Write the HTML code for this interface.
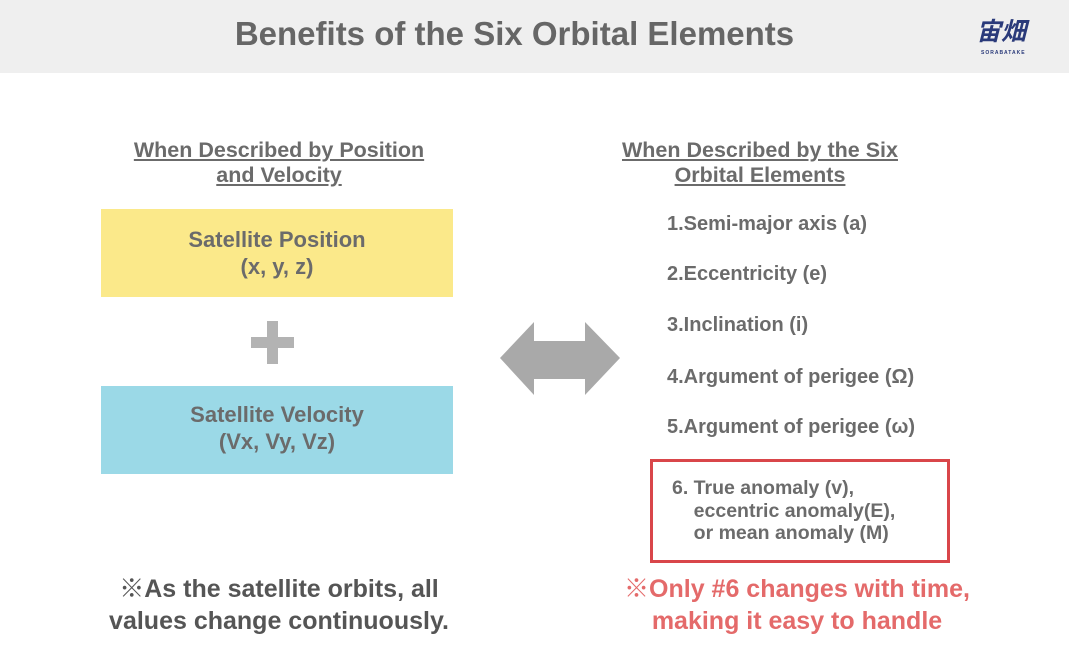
<!DOCTYPE html>
<html><head><meta charset="utf-8"><style>
body{margin:0;width:1069px;height:660px;background:#fff;position:relative;overflow:hidden;font-family:"Liberation Sans","Noto Sans CJK JP",sans-serif;font-weight:bold;color:#6b6b6b}
.a{position:absolute;white-space:nowrap}
.c{text-align:center}
</style></head><body>
<div class="a" style="left:0;top:0;width:1069px;height:73px;background:#efefef"></div>
<div class="a c" style="left:0;width:1029px;top:15px;font-size:33px;color:#666">Benefits of the Six Orbital Elements</div>
<div class="a" style="left:976px;top:16px;font-size:25px;color:#2a3a7a;font-style:italic;font-family:'Noto Sans CJK JP',sans-serif;line-height:28px">宙畑</div>
<div class="a" style="left:981px;top:50px;font-size:5px;color:#2a3a7a;letter-spacing:1px">SORABATAKE</div>

<div class="a c" style="left:79px;width:400px;top:138px;font-size:21.5px;line-height:25px;text-decoration:underline">When Described by Position<br>and Velocity</div>
<div class="a c" style="left:560px;width:400px;top:138px;font-size:21.5px;line-height:25px;text-decoration:underline">When Described by the Six<br>Orbital Elements</div>

<div class="a c" style="left:101px;top:209px;width:352px;height:88px;background:#fbe98a;font-size:22px;line-height:27px;box-sizing:border-box;padding-top:17px">Satellite Position<br>(x, y, z)</div>
<div class="a" style="left:251px;top:337px;width:43px;height:11px;background:#b3b3b3"></div>
<div class="a" style="left:267px;top:321px;width:11px;height:43px;background:#b3b3b3"></div>
<div class="a c" style="left:101px;top:386px;width:352px;height:88px;background:#9bd9e7;font-size:22px;line-height:27px;box-sizing:border-box;padding-top:15px">Satellite Velocity<br>(Vx, Vy, Vz)</div>

<svg class="a" style="left:0;top:0" width="1069" height="660"><polygon points="500,358 534,322 534,341 585,341 585,322 620,358 585,395 585,379 534,379 534,395" fill="#a9a9a9"/></svg>

<div class="a" style="left:667px;top:213px;font-size:20px">1.Semi-major axis (a)</div>
<div class="a" style="left:667px;top:263px;font-size:20px">2.Eccentricity (e)</div>
<div class="a" style="left:667px;top:314px;font-size:20px">3.Inclination (i)</div>
<div class="a" style="left:667px;top:366px;font-size:20px">4.Argument of perigee (Ω)</div>
<div class="a" style="left:667px;top:416px;font-size:20px">5.Argument of perigee (ω)</div>
<div class="a" style="left:650px;top:459px;width:300px;height:104px;border:3px solid #d9464a;box-sizing:border-box"></div>
<div class="a" style="left:672px;top:477px;font-size:19.5px;line-height:22.5px">6. True anomaly (v),<br>&nbsp;&nbsp;&nbsp;&nbsp;eccentric anomaly(E),<br>&nbsp;&nbsp;&nbsp;&nbsp;or mean anomaly (M)</div>

<div class="a c" style="left:79px;width:400px;top:573px;font-size:25px;line-height:32px;color:#555">※As the satellite orbits, all<br>values change continuously.</div>
<div class="a c" style="left:597px;width:400px;top:573px;font-size:25px;line-height:32px;color:#e46a6a">※Only #6 changes with time,<br>making it easy to handle</div>
</body></html>
